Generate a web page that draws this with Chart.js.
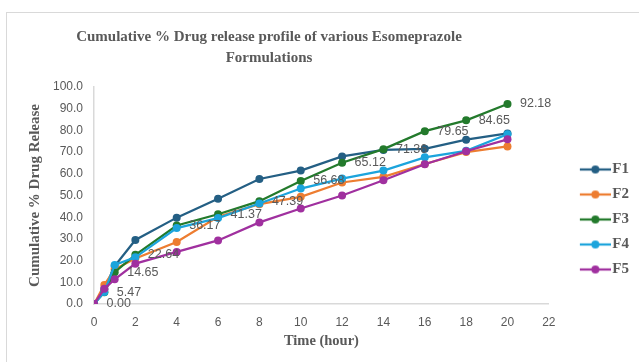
<!DOCTYPE html>
<html>
<head>
<meta charset="utf-8">
<script src="https://cdn.jsdelivr.net/npm/chart.js@4.4.0/dist/chart.umd.min.js"></script>
<style>
    html, body { margin: 0; padding: 0; background: #fff; }
    #frame { position: absolute; left: 6px; top: 12px; width: 700px; height: 400px; border: 1px solid #d9d9d9; }
    #releaseChart { position: absolute; left: 0; top: 0; }
</style>
</head>
<body>
<div id="frame"></div>
<canvas id="releaseChart" width="639" height="362"></canvas>
<script>
// ----------- Données -----------//
const hours = [0, 0.5, 1, 2, 4, 6, 8, 10, 12, 14, 16, 18, 20];
const f1Values = [0, 6.8, 17.5, 29.5, 39.8, 48.5, 57.6, 61.5, 68.0, 71.0, 71.5, 75.7, 78.6];
const f2Values = [0, 8.8, 16.0, 21.0, 28.6, 40.2, 46.0, 49.4, 56.0, 58.6, 64.5, 70.0, 72.6];
const f3Values = [0.00, 5.47, 14.65, 22.64, 36.17, 41.37, 47.39, 56.68, 65.12, 71.36, 79.65, 84.65, 92.18];
const f4Values = [0, 5.5, 18.0, 21.5, 35.0, 39.6, 46.3, 53.2, 57.8, 61.5, 67.6, 70.6, 78.2];
const f5Values = [0, 7.0, 11.4, 18.6, 24.0, 29.3, 37.6, 44.0, 50.0, 57.0, 64.4, 70.4, 75.9];
const seriesNames = ['F1', 'F2', 'F3', 'F4', 'F5'];
const seriesValues = [f1Values, f2Values, f3Values, f4Values, f5Values];
const seriesColors = ['#245f84', '#ed7d31', '#237a2c', '#1ca4dc', '#a0309f'];
const labelledSeries = 'F3'; // seule la série F3 porte des étiquettes
const titleLines = ['Cumulative % Drug release profile of various Esomeprazole', 'Formulations'];
const xTitle = 'Time (hour)';
const yTitle = 'Cumulative % Drug Release';
const xMin = 0, xMax = 22, xStep = 2;
const yMin = 0, yMax = 100, yStep = 10;

const grey = '#595959';

// petite image "ligne + rond" pour la légende (comme Excel)
function legendMarker(color) {
    const c = document.createElement('canvas');
    c.width = 58;
    c.height = 12;
    const g = c.getContext('2d');
    g.strokeStyle = color;
    g.lineWidth = 2.25;
    g.beginPath();
    g.moveTo(27, 6);
    g.lineTo(58, 6);
    g.stroke();
    g.fillStyle = color;
    g.beginPath();
    g.arc(42.5, 6, 4, 0, Math.PI * 2);
    g.fill();
    return c;
}

// titre centré comme sur l'original
const titlePlugin = {
    id: 'excelTitle',
    afterDraw(chart) {
        const ctx = chart.ctx;
        ctx.save();
        ctx.fillStyle = grey;
        ctx.font = 'bold 15px "Liberation Serif"';
        ctx.textAlign = 'center';
        ctx.textBaseline = 'alphabetic';
        ctx.fillText(titleLines[0], 269, 40.5);
        ctx.fillText(titleLines[1], 269, 61.5);
        ctx.restore();
    }
};

// étiquettes de données à droite des points
const dataLabelPlugin = {
    id: 'rightLabels',
    afterDatasetsDraw(chart) {
        const ctx = chart.ctx;
        chart.data.datasets.forEach((ds, i) => {
            if (ds.label !== labelledSeries) return;
            const meta = chart.getDatasetMeta(i);
            ctx.save();
            ctx.fillStyle = grey;
            ctx.font = '12.5px "Liberation Sans"';
            ctx.textAlign = 'left';
            ctx.textBaseline = 'middle';
            meta.data.forEach((pt, j) => {
                ctx.fillText(ds.data[j].y.toFixed(2), pt.x + 12.5, pt.y);
            });
            ctx.restore();
        });
    }
};

const datasets = seriesNames.map((name, i) => ({
    label: name,
    data: hours.map((h, j) => ({ x: h, y: seriesValues[i][j] })),
    borderColor: seriesColors[i],
    backgroundColor: seriesColors[i],
    pointBackgroundColor: seriesColors[i],
    pointBorderWidth: 0,
    pointRadius: 4,
    borderWidth: 2.25,
    tension: 0,
    order: seriesNames.length - i // F5 dessiné au-dessus
}));

const ctx = document.getElementById('releaseChart').getContext('2d');
new Chart(ctx, {
    type: 'line',
    data: { datasets: datasets },
    plugins: [titlePlugin, dataLabelPlugin],
    options: {
        responsive: false,
        animation: false,
        layout: { padding: { left: 10, top: 87, right: 0, bottom: 10 } },
        plugins: {
            title: { display: false },
            tooltip: { enabled: false },
            legend: {
                position: 'right',
                labels: {
                    sort: (a, b) => a.datasetIndex - b.datasetIndex,
                    usePointStyle: true,
                    pointStyleWidth: 46,
                    padding: 10,
                    color: grey,
                    font: { family: 'Liberation Serif', size: 15, weight: 'bold' },
                    generateLabels: function (chart) {
                        const items = Chart.defaults.plugins.legend.labels.generateLabels(chart);
                        items.forEach(item => {
                            item.pointStyle = legendMarker(seriesColors[item.datasetIndex]);
                        });
                        return items;
                    }
                }
            }
        },
        scales: {
            x: {
                type: 'linear',
                min: xMin,
                max: xMax,
                grid: { display: false, drawTicks: false },
                border: { color: '#d9d9d9', width: 1.5 },
                ticks: {
                    stepSize: xStep,
                    padding: 11,
                    color: grey,
                    font: { family: 'Liberation Sans', size: 12 }
                },
                title: {
                    display: true,
                    text: xTitle,
                    color: grey,
                    font: { family: 'Liberation Serif', size: 14.5, weight: 'bold' },
                    padding: { top: 0, bottom: 2 }
                },
                afterFit: function (scale) { scale.height = 48; }
            },
            y: {
                min: yMin,
                max: yMax,
                grid: { display: false, drawTicks: false },
                border: { color: '#d9d9d9', width: 1.5 },
                ticks: {
                    stepSize: yStep,
                    padding: 11,
                    color: grey,
                    font: { family: 'Liberation Sans', size: 12 },
                    callback: function (value) { return value.toFixed(1); }
                },
                title: {
                    display: true,
                    text: yTitle,
                    color: grey,
                    font: { family: 'Liberation Serif', size: 15, weight: 'bold' },
                    padding: { top: 16, bottom: 0 }
                },
                afterFit: function (scale) { scale.width = 84; }
            }
        }
    }
});
</script>
</body>
</html>
